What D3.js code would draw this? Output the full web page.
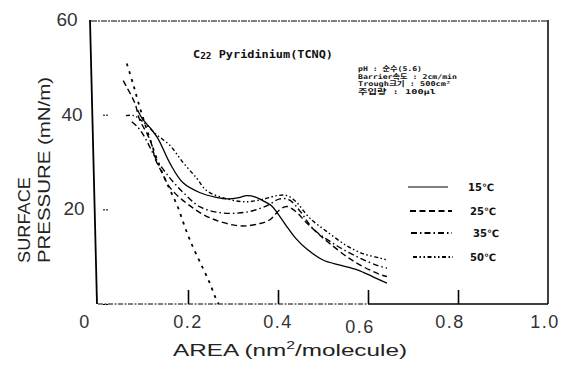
<!DOCTYPE html>
<html><head><meta charset="utf-8">
<script src="https://cdn.jsdelivr.net/npm/d3@7"></script>
<style>body{margin:0;background:#fff}svg{display:block}</style>
</head><body>
<svg id="c" width="569" height="376"></svg>
<script>
// ---- data ----
const xTickValues = [0, 0.2, 0.4, 0.6, 0.8, 1.0];
const xTickLabels = ["0", "0.2", "0.4", "0.6", "0.8", "1.0"];
const yTickValues = [20, 40, 60];
const yTickLabels = ["20", "40", "60"];

const legendLabels = ["15\u2103", "25\u2103", "35\u2103", "50\u2103"];

const area15 = [0.088,0.098,0.115,0.133,0.16,0.189,0.227,0.26,0.29,0.31,0.331,0.35,0.367,0.385,0.398,0.42,0.44,0.464,0.5,0.538,0.576,0.61,0.642];
const pres15 = [41,39.2,37.3,35.0,29.7,25.6,23.5,22.6,22.2,22.4,22.9,22.6,21.8,20.8,19.3,16.3,13.8,11.6,9.3,8.2,7.2,5.8,4.4];

const area25 = [0.056,0.064,0.082,0.093,0.109,0.12,0.127,0.142,0.16,0.198,0.249,0.316,0.36,0.382,0.405,0.42,0.44,0.46,0.49,0.516,0.567,0.622,0.642];
const pres25 = [47.2,45.8,42.4,38.8,36.0,33.5,30.7,27.8,24.6,21.2,18.2,16.5,17.0,17.8,20.0,20.6,19.5,17.5,14.8,12.7,9.1,6.4,5.8];

const area35 = [0.075,0.09,0.104,0.13,0.16,0.19,0.227,0.271,0.31,0.344,0.376,0.404,0.425,0.45,0.478,0.531,0.58,0.622,0.642];
const pres35 = [38.5,37.2,35.2,30.5,26.6,23.5,20.5,19.3,19.2,19.7,20.8,22.2,22.0,19.5,15.9,12.3,9.8,8.1,7.6];

const area50 = [0.062,0.08,0.1,0.13,0.16,0.189,0.22,0.242,0.287,0.33,0.37,0.398,0.42,0.44,0.47,0.51,0.553,0.59,0.627,0.642];
const pres50 = [39.8,39.8,38.5,35.8,33.5,29.9,26.5,23.9,22.2,21.6,22.2,22.9,22.9,21.6,18.2,15.2,12.3,10.6,9.7,9.3];

const areaSteep = [0.064,0.078,0.093,0.115,0.138,0.158,0.176,0.198,0.215,0.233,0.248,0.26,0.268];
const presSteep = [50.8,46.5,41.5,35.0,28.8,24.5,20.8,15.0,11.2,7.6,4.5,1.6,0];

// ---- drawing ----
const svg = d3.select("#c");
svg.append("rect").attr("width",569).attr("height",376).attr("fill","#fff");

const x = d3.scaleLinear().domain([0,1]).range([98,548]);
const y = d3.scaleLinear().domain([0,60]).range([304,20]);

// frame
svg.append("line").attr("x1",x(0)-8).attr("y1",y(60)).attr("x2",x(0)-1).attr("y2",y(0))
  .attr("stroke","#000").attr("stroke-width",1.8);
svg.append("line").attr("x1",x(0)-7).attr("y1",y(60)+1).attr("x2",x(1)).attr("y2",y(60)+1)
  .attr("stroke","#000").attr("stroke-width",1).attr("stroke-dasharray","6,1,2,1");
svg.append("line").attr("x1",x(1)).attr("y1",y(60)).attr("x2",x(1)).attr("y2",y(0))
  .attr("stroke","#000").attr("stroke-width",1.5);
svg.append("line").attr("x1",x(0)).attr("y1",y(0)).attr("x2",x(0.6)).attr("y2",y(0))
  .attr("stroke","#000").attr("stroke-width",1).attr("stroke-dasharray","5,1.5,2,1.5");
svg.append("line").attr("x1",x(0.6)).attr("y1",y(0)).attr("x2",x(1)).attr("y2",y(0))
  .attr("stroke","#000").attr("stroke-width",1.3);

// x axis ticks (inward) and labels
const xAxis = d3.axisBottom(x).tickValues(xTickValues.slice(1,5)).tickSize(-14).tickFormat("");
const gx = svg.append("g").attr("transform",`translate(0,${y(0)})`).call(xAxis);
gx.select(".domain").remove();
gx.selectAll(".tick line").attr("stroke","#000").attr("stroke-width",1.6);
svg.selectAll(".xl").data(xTickValues).enter().append("text")
  .attr("x",(d,i)=> i===0 ? x(d)-13 : x(d) + (i===3?-8:(i===4?-8:(i===5?-3:0))))
  .attr("y",(d,i)=> i===3 ? 333 : 328)
  .attr("text-anchor","middle")
  .attr("font-family","Liberation Sans, Arial, sans-serif").attr("font-size",18)
  .attr("letter-spacing",1.5)
  .attr("fill","#333")
  .text((d,i)=>xTickLabels[i]);

// y axis ticks (inward, short) and labels
const yAxis = d3.axisLeft(y).tickValues([0,20,40]).tickSize(-6).tickFormat("");
const gy = svg.append("g").attr("transform",`translate(${x(0)+5},0)`).call(yAxis);
gy.select(".domain").remove();
gy.selectAll(".tick line").attr("stroke","#000").attr("stroke-width",1).attr("stroke-dasharray","2,1");
svg.selectAll(".yl").data(yTickValues).enter().append("text")
  .attr("x",(d,i)=> [74,72,67][i])
  .attr("y",d=> y(d)+6)
  .attr("text-anchor","middle")
  .attr("font-family","Liberation Sans, Arial, sans-serif").attr("font-size",19)
  .attr("fill","#333")
  .text((d,i)=>yTickLabels[i]);

// axis titles
svg.append("text").attr("transform","translate(30,263) rotate(-90)")
  .attr("font-family","Liberation Sans, Arial, sans-serif").attr("font-size",17)
  .attr("textLength",86).attr("lengthAdjust","spacingAndGlyphs")
  .attr("fill","#222").text("SURFACE");
svg.append("text").attr("transform","translate(50,263) rotate(-90)")
  .attr("font-family","Liberation Sans, Arial, sans-serif").attr("font-size",17)
  .attr("textLength",186).attr("lengthAdjust","spacingAndGlyphs")
  .attr("fill","#222").text("PRESSURE (mN/m)");
svg.append("text").attr("x",173).attr("y",356)
  .attr("font-family","Liberation Sans, Arial, sans-serif").attr("font-size",17)
  .attr("textLength",234).attr("lengthAdjust","spacingAndGlyphs")
  .attr("fill","#222")
  .html('AREA (nm<tspan dy="-7" font-size="11">2</tspan><tspan dy="7">/molecule)</tspan>');

// curves
const line = d3.line().x(d=>x(d[0])).y(d=>y(d[1])).curve(d3.curveCatmullRom.alpha(0.5));
const series = [
  {a:area15, p:pres15, dash:null, w:1.3},
  {a:area25, p:pres25, dash:"6,3.5", w:1.4},
  {a:area35, p:pres35, dash:"6,3,1.5,3", w:1.4},
  {a:area50, p:pres50, dash:"4,2.5,1.5,2.5,1.5,2.5", w:1.4},
  {a:areaSteep, p:presSteep, dash:"3,5", w:1.8}
];
series.forEach(s=>{
  svg.append("path").datum(d3.zip(s.a,s.p)).attr("d",line)
    .attr("fill","none").attr("stroke","#000").attr("stroke-width",s.w)
    .attr("stroke-dasharray",s.dash);
});

// legend
const legY = [187,211,233,257];
const legX1 = [408,410,411,413], legX2 = [448,452,452,453], legTX = [468,470,473,470];
legendLabels.forEach((lab,i)=>{
  svg.append("line").attr("x1",legX1[i]).attr("x2",legX2[i]).attr("y1",legY[i]).attr("y2",legY[i])
    .attr("stroke","#000").attr("stroke-width",i===0?1.2:1.8).attr("stroke-dasharray",series[i].dash);
  svg.append("text").attr("x",legTX[i]).attr("y",legY[i]+4)
    .attr("font-family","DejaVu Sans, sans-serif").attr("font-weight","bold").attr("font-size",10)
    .attr("fill","#111").text(lab);
});

// annotations
svg.append("text").attr("x",193).attr("y",58)
  .attr("font-family","DejaVu Sans Mono, monospace").attr("font-weight","bold").attr("font-size",10)
  .attr("textLength",140).attr("lengthAdjust","spacingAndGlyphs").attr("fill","#111")
  .html('C<tspan font-size="8" dy="1">22</tspan><tspan dy="-1"> Pyridinium(TCNQ)</tspan>');
const noteLines = ["pH : \uC21C\uC218(5.6)", "Barrier\uC18D\uB3C4 : 2cm/min", "Trough\uD06C\uAE30 : 500cm\u00B2", "\uC8FC\uC785\uB7C9 : 100\u03BCl"];
const noteW = [64, 99, 93, 78];
noteLines.forEach((t,i)=>{
  svg.append("text").attr("x",358).attr("y",71+i*7.6)
    .attr("font-family","DejaVu Sans Mono, Noto Sans CJK KR, monospace").attr("font-weight","bold").attr("font-size",6.6)
    .attr("textLength",noteW[i]).attr("lengthAdjust","spacingAndGlyphs").attr("fill","#111").text(t);
});
</script>
</body></html>
